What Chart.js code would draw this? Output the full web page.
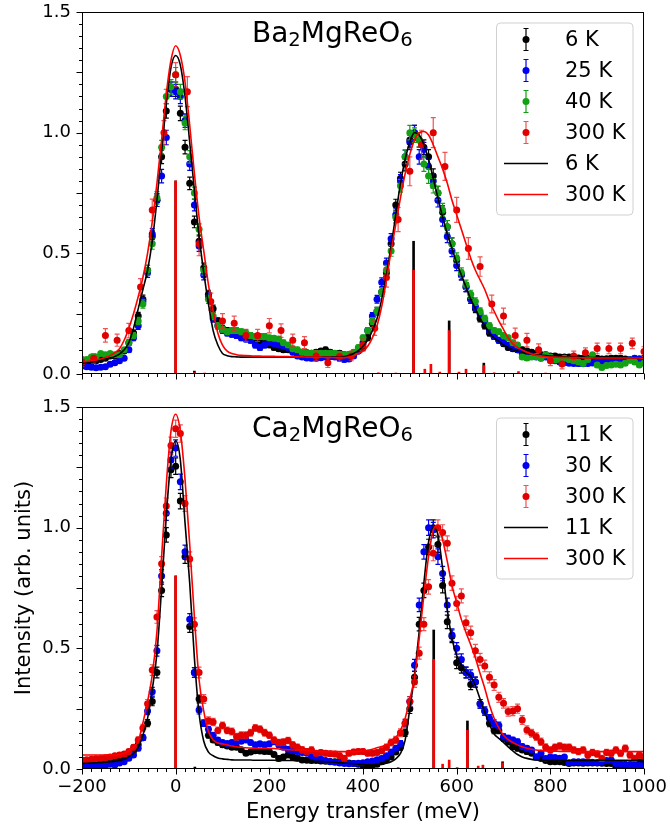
<!DOCTYPE html>
<html><head><meta charset="utf-8">
<script src="https://cdn.jsdelivr.net/npm/chart.js@4.4.1/dist/chart.umd.min.js"></script>
<style>
html,body{margin:0;padding:0;background:#fff;}
#wrap{position:relative;width:670px;height:833px;overflow:hidden;background:#fff;}
canvas{position:absolute;left:0;}
#c1{top:0;} #c2{top:390px;}
</style></head><body>
<div id="wrap"><canvas id="c1" width="670" height="390"></canvas><canvas id="c2" width="670" height="443"></canvas></div>
<script>
// ---------- axes / ticks ----------
const xTickValues = [-200, 0, 200, 400, 600, 800, 1000];
const yTickValues = [0, 0.5, 1.0, 1.5];

// ---------- energy grids (meV) ----------
const energy10 = [-200,-190,-180,-170,-160,-150,-140,-130,-120,-110,
 -100,-90,-80,-70,-60,-50,-40,-30,-20,-10,
 0,10,20,30,40,50,60,70,80,90,
 100,110,120,130,140,150,160,170,180,190,
 200,210,220,230,240,250,260,270,280,290,
 300,310,320,330,340,350,360,370,380,390,
 400,410,420,430,440,450,460,470,480,490,
 500,510,520,530,540,550,560,570,580,590,
 600,610,620,630,640,650,660,670,680,690,
 700,710,720,730,740,750,760,770,780,790,
 800,810,820,830,840,850,860,870,880,890,
 900,910,920,930,940,950,960,970,980,990,
 1000];
const energy25 = [-200,-175,-150,-125,-100,-75,-50,-25,0,25,50,75,100,125,150,175,200,225,250,275,300,325,350,375,400,425,450,475,500,525,550,575,600,625,650,675,700,725,750,775,800,825,850,875,900,925,950,975,1000];

// ---------- Ba2MgReO6 data ----------
const ba6K = [0.045,0.05,0.05,0.055,0.06,0.065,0.075,0.075,0.085,0.095,
 0.13,0.17,0.24,0.31,0.43,0.57,0.72,0.90,1.09,1.18,
 1.18,1.08,0.94,0.79,0.63,0.55,0.44,0.33,0.27,0.22,
 0.19,0.18,0.17,0.17,0.16,0.16,0.15,0.14,0.13,0.125,
 0.12,0.11,0.105,0.10,0.10,0.10,0.095,0.09,0.088,0.086,
 0.09,0.095,0.10,0.09,0.085,0.086,0.08,0.08,0.08,0.095,
 0.11,0.15,0.21,0.26,0.34,0.42,0.54,0.70,0.81,0.87,
 0.97,1.00,0.97,0.94,0.90,0.82,0.75,0.67,0.61,0.54,
 0.47,0.41,0.36,0.31,0.27,0.23,0.20,0.17,0.155,0.14,
 0.125,0.11,0.105,0.10,0.10,0.095,0.09,0.085,0.08,0.08,
 0.075,0.075,0.07,0.07,0.07,0.068,0.066,0.065,0.065,0.065,
 0.065,0.062,0.063,0.065,0.065,0.065,0.062,0.058,0.06,0.062,
 0.065];
const ba25K = [0.033,0.03,0.028,0.026,0.028,0.03,0.04,0.047,0.055,0.065,
 0.10,0.15,0.20,0.30,0.42,0.58,0.72,0.82,0.98,1.18,
 1.17,1.15,1.05,0.87,0.70,0.53,0.41,0.32,0.23,0.20,
 0.18,0.17,0.165,0.16,0.15,0.145,0.14,0.12,0.11,0.12,
 0.13,0.125,0.12,0.115,0.11,0.09,0.075,0.07,0.066,0.065,
 0.065,0.067,0.07,0.072,0.07,0.065,0.06,0.062,0.075,0.095,
 0.13,0.18,0.24,0.31,0.38,0.46,0.56,0.66,0.80,0.90,
 0.96,1.00,0.90,0.93,0.86,0.80,0.72,0.64,0.57,0.51,
 0.45,0.41,0.36,0.31,0.28,0.25,0.22,0.18,0.155,0.14,
 0.13,0.12,0.11,0.10,0.086,0.08,0.075,0.07,0.066,0.07,
 0.06,0.055,0.05,0.048,0.045,0.044,0.043,0.042,0.044,0.046,
 0.05,0.052,0.051,0.05,0.05,0.052,0.055,0.06,0.065,0.062,
 0.06];
const ba40K = [0.06,0.06,0.07,0.07,0.085,0.08,0.085,0.08,0.08,0.10,
 0.13,0.16,0.22,0.29,0.43,0.54,0.73,0.94,1.15,1.19,
 1.24,1.17,1.04,0.90,0.75,0.60,0.43,0.31,0.24,0.20,
 0.185,0.175,0.18,0.18,0.175,0.17,0.16,0.155,0.155,0.155,
 0.15,0.148,0.145,0.13,0.12,0.105,0.10,0.09,0.086,0.086,
 0.086,0.086,0.086,0.086,0.086,0.082,0.08,0.08,0.09,0.11,
 0.15,0.18,0.22,0.26,0.34,0.43,0.51,0.65,0.78,0.90,
 1.00,0.99,0.97,0.87,0.82,0.78,0.75,0.68,0.61,0.54,
 0.48,0.42,0.37,0.33,0.30,0.26,0.23,0.20,0.18,0.175,
 0.16,0.15,0.13,0.12,0.07,0.066,0.07,0.072,0.065,0.079,
 0.07,0.058,0.06,0.065,0.06,0.055,0.05,0.044,0.06,0.08,
 0.037,0.027,0.035,0.037,0.04,0.037,0.045,0.058,0.05,0.037,
 0.045];
const baLowTErr = [0.008,0.008,0.008,0.008,0.008,0.008,0.008,0.008,0.008,0.008,
 0.01,0.012,0.015,0.017,0.02,0.023,0.026,0.028,0.03,0.03,
 0.03,0.03,0.028,0.026,0.024,0.022,0.02,0.017,0.015,0.013,
 0.012,0.012,0.012,0.012,0.012,0.012,0.012,0.012,0.012,0.012,
 0.01,0.01,0.01,0.01,0.01,0.01,0.01,0.01,0.01,0.01,
 0.01,0.01,0.01,0.01,0.01,0.01,0.01,0.01,0.01,0.01,
 0.011,0.012,0.014,0.016,0.018,0.02,0.022,0.024,0.026,0.028,
 0.03,0.03,0.03,0.03,0.03,0.03,0.028,0.027,0.026,0.024,
 0.022,0.02,0.019,0.017,0.016,0.014,0.013,0.012,0.011,0.011,
 0.01,0.01,0.01,0.01,0.01,0.01,0.01,0.01,0.01,0.01,
 0.009,0.009,0.009,0.009,0.009,0.009,0.009,0.009,0.009,0.009,
 0.009,0.009,0.009,0.009,0.009,0.009,0.009,0.009,0.009,0.009,
 0.009];
const ba300K = [0.05,0.065,0.16,0.14,0.18,0.36,0.68,1.00,1.24,1.17,0.54,0.30,0.22,0.21,0.16,0.16,0.20,0.18,0.14,0.13,0.075,0.047,0.072,0.075,0.12,0.19,0.40,0.64,0.84,0.95,1.00,0.86,0.68,0.52,0.445,0.29,0.24,0.16,0.14,0.10,0.055,0.041,0.075,0.088,0.106,0.106,0.106,0.127,0.093];
const ba300KErr = [0.02,0.02,0.028,0.025,0.03,0.035,0.045,0.05,0.05,0.062,0.05,0.035,0.03,0.03,0.025,0.025,0.03,0.028,0.025,0.025,0.02,0.02,0.02,0.02,0.025,0.03,0.04,0.05,0.06,0.06,0.062,0.058,0.052,0.045,0.04,0.037,0.033,0.03,0.028,0.025,0.02,0.02,0.02,0.02,0.022,0.022,0.022,0.022,0.02];
const baFit6K = [0.045,0.048,0.05,0.053,0.056,0.06,0.065,0.072,0.082,0.10,
 0.13,0.19,0.27,0.35,0.43,0.55,0.72,0.92,1.12,1.27,
 1.32,1.28,1.15,0.96,0.76,0.57,0.42,0.29,0.18,0.12,
 0.085,0.076,0.072,0.071,0.07,0.07,0.07,0.07,0.07,0.07,
 0.07,0.07,0.07,0.07,0.07,0.07,0.07,0.07,0.07,0.07,
 0.07,0.07,0.07,0.07,0.07,0.07,0.072,0.077,0.085,0.097,
 0.115,0.14,0.18,0.23,0.31,0.41,0.53,0.66,0.79,0.89,
 0.96,1.00,0.99,0.95,0.89,0.81,0.73,0.65,0.58,0.52,
 0.46,0.41,0.36,0.31,0.27,0.23,0.20,0.17,0.15,0.135,
 0.12,0.11,0.10,0.095,0.09,0.085,0.082,0.08,0.078,0.076,
 0.074,0.073,0.072,0.071,0.07,0.07,0.07,0.069,0.069,0.068,
 0.068,0.068,0.067,0.067,0.067,0.066,0.066,0.066,0.066,0.066,
 0.066];
const baFit300K = [0.05,0.052,0.055,0.058,0.062,0.068,0.076,0.088,0.105,0.14,
 0.19,0.25,0.32,0.40,0.50,0.63,0.79,0.97,1.16,1.30,
 1.36,1.32,1.21,1.03,0.83,0.65,0.51,0.37,0.26,0.17,
 0.12,0.095,0.085,0.08,0.077,0.076,0.075,0.074,0.074,0.073,
 0.073,0.073,0.072,0.072,0.072,0.071,0.071,0.071,0.07,0.07,
 0.07,0.07,0.069,0.069,0.068,0.068,0.068,0.07,0.075,0.085,
 0.095,0.115,0.15,0.20,0.28,0.39,0.51,0.62,0.73,0.83,
 0.91,0.97,1.00,1.005,0.99,0.95,0.90,0.85,0.79,0.72,
 0.66,0.60,0.54,0.48,0.43,0.39,0.35,0.30,0.26,0.22,
 0.185,0.15,0.125,0.11,0.10,0.09,0.083,0.078,0.075,0.072,
 0.07,0.07,0.069,0.069,0.068,0.068,0.068,0.067,0.067,0.067,
 0.066,0.066,0.066,0.066,0.066,0.066,0.066,0.066,0.066,0.066,
 0.065];
const baStickBlackE = [0, 40, 508, 584, 658];
const baStickBlackH = [0.80, 0.012, 0.55, 0.22, 0.045];
const baStickRedE = [0, 40, 62, 433, 470, 508, 532, 545, 564, 584, 605, 620, 658, 680, 732, 790];
const baStickRedH = [0.80, 0.006, 0.004, 0.005, 0.004, 0.43, 0.02, 0.04, 0.008, 0.18, 0.008, 0.02, 0.035, 0.005, 0.01, 0.004];

// ---------- Ca2MgReO6 data ----------
const ca11K = [0.02,0.02,0.022,0.025,0.025,0.03,0.028,0.03,0.035,0.04,
 0.06,0.075,0.10,0.13,0.19,0.28,0.40,0.74,0.97,1.24,
 1.255,1.11,0.88,0.59,0.40,0.29,0.19,0.14,0.12,0.11,
 0.10,0.095,0.09,0.09,0.08,0.065,0.07,0.076,0.075,0.073,
 0.072,0.06,0.044,0.05,0.058,0.05,0.045,0.037,0.036,0.035,
 0.035,0.033,0.032,0.031,0.03,0.028,0.026,0.025,0.023,0.02,
 0.015,0.012,0.015,0.02,0.03,0.037,0.05,0.07,0.09,0.15,
 0.25,0.38,0.60,0.74,0.92,1.00,0.93,0.76,0.61,0.55,
 0.44,0.42,0.40,0.35,0.36,0.27,0.24,0.19,0.16,0.16,
 0.127,0.113,0.093,0.086,0.079,0.072,0.065,0.05,0.044,0.035,
 0.03,0.03,0.03,0.027,0.023,0.025,0.025,0.024,0.025,0.025,
 0.025,0.024,0.023,0.023,0.006,0.012,0.015,0.017,0.025,0.03,
 0.026];
const ca30K = [0.012,0.012,0.01,0.012,0.012,0.015,0.02,0.017,0.025,0.03,
 0.045,0.058,0.086,0.13,0.24,0.32,0.49,0.80,1.06,1.28,
 1.33,1.19,0.90,0.62,0.40,0.244,0.19,0.165,0.14,0.12,
 0.11,0.106,0.11,0.113,0.115,0.12,0.11,0.10,0.105,0.10,
 0.105,0.113,0.10,0.09,0.082,0.076,0.072,0.068,0.065,0.055,
 0.045,0.04,0.035,0.03,0.028,0.025,0.023,0.022,0.023,0.024,
 0.026,0.03,0.033,0.038,0.044,0.055,0.07,0.086,0.106,0.19,
 0.28,0.43,0.68,0.90,1.00,0.99,0.88,0.81,0.68,0.555,
 0.50,0.454,0.40,0.39,0.36,0.27,0.24,0.21,0.19,0.18,
 0.134,0.127,0.12,0.113,0.093,0.086,0.079,0.05,0.065,0.044,
 0.05,0.048,0.045,0.05,0.026,0.03,0.03,0.03,0.03,0.028,
 0.026,0.03,0.035,0.037,0.023,0.022,0.02,0.019,0.017,0.015,
 0.014];
const caLowTErr = [0.006,0.006,0.006,0.006,0.006,0.006,0.006,0.006,0.006,0.006,
 0.008,0.009,0.01,0.012,0.015,0.018,0.022,0.026,0.03,0.033,
 0.034,0.032,0.028,0.024,0.02,0.016,0.013,0.011,0.01,0.01,
 0.009,0.009,0.009,0.009,0.009,0.009,0.009,0.009,0.009,0.009,
 0.009,0.009,0.009,0.009,0.009,0.009,0.009,0.009,0.009,0.009,
 0.008,0.008,0.008,0.008,0.008,0.008,0.008,0.008,0.008,0.008,
 0.007,0.007,0.007,0.007,0.008,0.008,0.009,0.01,0.012,0.015,
 0.02,0.024,0.028,0.03,0.032,0.032,0.032,0.03,0.028,0.026,
 0.024,0.023,0.022,0.021,0.021,0.018,0.017,0.015,0.014,0.014,
 0.012,0.012,0.011,0.011,0.01,0.01,0.009,0.009,0.008,0.008,
 0.007,0.007,0.007,0.007,0.007,0.007,0.007,0.007,0.007,0.007,
 0.007,0.007,0.007,0.007,0.007,0.007,0.007,0.007,0.007,0.007,
 0.007];
const ca300K = [0.037,0.038,0.04,0.042,0.044,0.047,0.05,0.055,0.058,0.062,
 0.072,0.09,0.12,0.17,0.27,0.41,0.63,0.85,1.09,1.34,
 1.41,1.39,1.10,0.87,0.60,0.40,0.29,0.20,0.195,0.16,
 0.18,0.16,0.155,0.134,0.14,0.14,0.15,0.17,0.165,0.15,
 0.14,0.12,0.11,0.112,0.118,0.10,0.09,0.08,0.072,0.079,
 0.065,0.068,0.065,0.063,0.062,0.055,0.045,0.065,0.07,0.072,
 0.072,0.065,0.065,0.068,0.076,0.09,0.11,0.12,0.15,0.19,
 0.28,0.36,0.48,0.60,0.755,0.894,1.00,0.98,0.935,0.77,
 0.686,0.717,0.606,0.565,0.49,0.454,0.427,0.38,0.348,0.297,
 0.272,0.238,0.24,0.25,0.203,0.162,0.148,0.134,0.113,0.09,
 0.079,0.09,0.095,0.09,0.09,0.079,0.072,0.079,0.058,0.068,
 0.062,0.044,0.068,0.065,0.079,0.065,0.086,0.058,0.044,0.058,
 0.05];
const ca300KErr = [0.008,0.008,0.008,0.008,0.008,0.008,0.008,0.008,0.008,0.008,
 0.01,0.011,0.013,0.015,0.018,0.022,0.026,0.03,0.033,0.035,
 0.036,0.036,0.033,0.03,0.026,0.022,0.018,0.016,0.015,0.014,
 0.014,0.014,0.014,0.014,0.014,0.014,0.014,0.014,0.014,0.014,
 0.013,0.013,0.013,0.013,0.013,0.013,0.013,0.013,0.013,0.013,
 0.011,0.011,0.011,0.011,0.011,0.011,0.011,0.011,0.011,0.011,
 0.011,0.011,0.011,0.011,0.012,0.013,0.014,0.015,0.016,0.018,
 0.02,0.022,0.025,0.027,0.03,0.031,0.032,0.032,0.031,0.03,
 0.029,0.029,0.028,0.027,0.026,0.025,0.024,0.023,0.022,0.021,
 0.02,0.019,0.019,0.019,0.018,0.017,0.016,0.016,0.015,0.014,
 0.013,0.013,0.013,0.013,0.013,0.013,0.013,0.013,0.013,0.013,
 0.013,0.013,0.013,0.013,0.013,0.013,0.013,0.013,0.013,0.013,
 0.013];
const caFit11K = [0.023,0.024,0.025,0.026,0.027,0.028,0.03,0.032,0.035,0.04,
 0.05,0.065,0.09,0.14,0.21,0.33,0.48,0.75,1.05,1.28,
 1.36,1.28,1.02,0.77,0.46,0.23,0.115,0.07,0.055,0.046,
 0.042,0.04,0.038,0.037,0.037,0.037,0.037,0.036,0.036,0.036,
 0.036,0.036,0.035,0.035,0.035,0.035,0.034,0.034,0.033,0.033,
 0.032,0.031,0.03,0.029,0.028,0.026,0.025,0.023,0.022,0.02,
 0.018,0.017,0.017,0.018,0.02,0.024,0.03,0.042,0.065,0.12,
 0.25,0.39,0.57,0.77,0.94,1.00,0.97,0.83,0.66,0.54,
 0.47,0.43,0.40,0.385,0.345,0.29,0.235,0.185,0.145,0.127,
 0.11,0.092,0.075,0.06,0.05,0.044,0.04,0.037,0.036,0.035,
 0.035,0.035,0.035,0.035,0.035,0.035,0.035,0.035,0.035,0.035,
 0.036,0.036,0.036,0.036,0.036,0.036,0.036,0.036,0.036,0.036,
 0.037];
const caFit300K = [0.058,0.058,0.058,0.058,0.058,0.058,0.059,0.059,0.06,0.065,
 0.075,0.09,0.115,0.19,0.28,0.39,0.57,0.88,1.18,1.40,
 1.47,1.40,1.20,0.93,0.63,0.37,0.24,0.155,0.12,0.108,
 0.104,0.10,0.095,0.092,0.09,0.088,0.087,0.086,0.086,0.086,
 0.086,0.085,0.083,0.081,0.08,0.079,0.079,0.079,0.077,0.075,
 0.073,0.072,0.072,0.072,0.072,0.072,0.072,0.072,0.072,0.073,
 0.075,0.078,0.082,0.088,0.093,0.10,0.11,0.13,0.16,0.21,
 0.29,0.38,0.54,0.72,0.88,0.99,1.01,0.95,0.86,0.76,
 0.69,0.62,0.565,0.515,0.46,0.396,0.335,0.265,0.21,0.17,
 0.14,0.122,0.11,0.10,0.092,0.086,0.082,0.079,0.077,0.075,
 0.074,0.074,0.073,0.073,0.073,0.073,0.072,0.072,0.072,0.072,
 0.072,0.072,0.072,0.072,0.072,0.072,0.072,0.072,0.072,0.072,
 0.072];
const caStickBlackE = [0, 41, 551, 623, 698, 771];
const caStickBlackH = [0.80, 0.008, 0.576, 0.199, 0.03, 0.006];
const caStickRedE = [0, 200, 475, 551, 570, 584, 601, 623, 646, 656, 698];
const caStickRedH = [0.80, 0.004, 0.006, 0.454, 0.02, 0.037, 0.006, 0.16, 0.012, 0.016, 0.025];

// ---------- helpers ----------
const FONT = "'DejaVu Sans', sans-serif";
const COL = {black:'#000000', blue:'#0000f0', green:'#14a014', red:'#e00000', redErr:'rgba(235,40,40,0.8)', redLine:'#ff0000'};
function pts(xs, ys){ return xs.map((x,i)=>({x:x, y:ys[i]})); }
function minusFmt(v){ return v < 0 ? '\u2212' + Math.abs(v) : String(v); }

const errorBarPlugin = {
  id:'errorBars',
  beforeDatasetDraw(chart, args){
    const ds = chart.data.datasets[args.index];
    if(!ds.errors) return;
    const {ctx, chartArea:a, scales:{x, y}} = chart;
    ctx.save();
    ctx.beginPath(); ctx.rect(a.left, a.top, a.right-a.left, a.bottom-a.top); ctx.clip();
    ctx.strokeStyle = ds.errorColor; ctx.lineWidth = 1.2;
    ctx.beginPath();
    ds.data.forEach((p,i)=>{
      const e = ds.errors[i];
      const px = x.getPixelForValue(p.x);
      const y1 = y.getPixelForValue(p.y - e), y2 = y.getPixelForValue(p.y + e);
      ctx.moveTo(px, y1); ctx.lineTo(px, y2);
      ctx.moveTo(px-2.5, y1); ctx.lineTo(px+2.5, y1);
      ctx.moveTo(px-2.5, y2); ctx.lineTo(px+2.5, y2);
    });
    ctx.stroke();
    ctx.restore();
  }
};

const framePlugin = {
  id:'frame',
  afterDatasetsDraw(chart){
    const {ctx, chartArea:a, scales:{x, y}} = chart;
    ctx.save();
    ctx.strokeStyle = '#000'; ctx.lineWidth = 1;
    const L = Math.round(a.left)+0.5, R = Math.round(a.right)-0.5, T = Math.round(a.top)+0.5, B = Math.round(a.bottom)-0.5;
    ctx.strokeRect(L, T, R-L, B-T);
    ctx.beginPath();
    for (let v = -200; v <= 1000; v += 20) {
      const px = Math.round(x.getPixelForValue(v)) + 0.5;
      const len = (v % 200 === 0) ? 6 : 3.5;
      ctx.moveTo(px, B); ctx.lineTo(px, B + len);
    }
    for (let k = 0; k <= 30; k++) {
      const py = Math.round(y.getPixelForValue(k * 0.05)) + 0.5;
      const len = (k % 5 === 0) ? 6 : 3.5;
      ctx.moveTo(L, py); ctx.lineTo(L - len, py);
    }
    ctx.stroke();
    ctx.restore();
  }
};

const decorPlugin = {
  id:'decor',
  afterDraw(chart, args, opts){
    const {ctx, chartArea:a} = chart;
    ctx.save();
    // panel title with subscripts
    let tx = a.left + 170; const base = a.top + 30;
    ctx.fillStyle = '#000'; ctx.textBaseline = 'alphabetic'; ctx.textAlign = 'left';
    opts.title.forEach(part => {
      ctx.font = (part.sub ? '19.6px ' : '28px ') + FONT;
      ctx.fillText(part.t, tx, base + (part.sub ? 4 : 0));
      tx += ctx.measureText(part.t).width;
    });
    // legend
    const items = opts.items;
    const bx = a.right - 147.5, by = a.top + 11, bw = 136.5, bh = items.length * 31 + 6, r = 4;
    ctx.beginPath();
    ctx.moveTo(bx + r, by); ctx.lineTo(bx + bw - r, by); ctx.quadraticCurveTo(bx + bw, by, bx + bw, by + r);
    ctx.lineTo(bx + bw, by + bh - r); ctx.quadraticCurveTo(bx + bw, by + bh, bx + bw - r, by + bh);
    ctx.lineTo(bx + r, by + bh); ctx.quadraticCurveTo(bx, by + bh, bx, by + bh - r);
    ctx.lineTo(bx, by + r); ctx.quadraticCurveTo(bx, by, bx + r, by);
    ctx.closePath();
    ctx.fillStyle = 'rgba(255,255,255,0.8)'; ctx.fill();
    ctx.strokeStyle = '#d0d0d0'; ctx.lineWidth = 1; ctx.stroke();
    items.forEach((it, i) => {
      const ds = chart.data.datasets[it.ds];
      const cy = by + 16.5 + i * 31;
      const mx = bx + 29.5;
      if (it.kind === 'point') {
        ctx.strokeStyle = ds.errorColor; ctx.lineWidth = 1.2;
        ctx.beginPath();
        ctx.moveTo(mx, cy - 11); ctx.lineTo(mx, cy + 11);
        ctx.moveTo(mx - 2.5, cy - 11); ctx.lineTo(mx + 2.5, cy - 11);
        ctx.moveTo(mx - 2.5, cy + 11); ctx.lineTo(mx + 2.5, cy + 11);
        ctx.stroke();
        ctx.fillStyle = ds.backgroundColor;
        ctx.beginPath(); ctx.arc(mx, cy, 3.5, 0, Math.PI * 2); ctx.fill();
      } else {
        ctx.strokeStyle = ds.borderColor; ctx.lineWidth = 1.6;
        ctx.beginPath(); ctx.moveTo(bx + 7.5, cy); ctx.lineTo(bx + 51.5, cy); ctx.stroke();
      }
      ctx.fillStyle = '#000'; ctx.font = '21px ' + FONT; ctx.textBaseline = 'middle';
      ctx.fillText(ds.label, bx + 68.5, cy + 1);
    });
    ctx.restore();
  }
};

function pointSet(label, xs, ys, errs, color, errColor, order){
  return {type:'scatter', label:label, data:pts(xs, ys), errors:errs, errorColor:errColor,
    backgroundColor:color, borderColor:color, pointRadius:3.5, pointBorderWidth:0, borderWidth:0,
    pointHoverRadius:3.5, showLine:false, order:order};
}
function lineSet(label, xs, ys, color, order){
  return {type:'line', label:label, data:pts(xs, ys), borderColor:color, backgroundColor:color,
    borderWidth:1.6, pointRadius:0, fill:false, cubicInterpolationMode:'monotone', order:order};
}
function stickSet(xs, ys, color, order){
  return {type:'bar', label:'', data:pts(xs, ys), backgroundColor:color, borderWidth:0,
    barThickness:2, grouped:false, order:order};
}

function makeOptions(isBottom, decor){
  const tickFont = {family:FONT, size:18};
  return {
    responsive:false, animation:false, devicePixelRatio:1, events:[],
    layout:{padding:{left:0, right:26, top:isBottom ? 17 : 12, bottom:0}},
    plugins:{legend:{display:false}, tooltip:{enabled:false}, decor:decor},
    scales:{
      x:{type:'linear', min:-200, max:1000, offset:false,
         grid:{display:false, drawTicks:true, tickLength:8}, border:{display:false},
         afterBuildTicks:s => { s.ticks = xTickValues.map(v => ({value:v})); },
         ticks:{display:isBottom, padding:0, color:'#000', font:tickFont, maxRotation:0, autoSkip:false,
                callback:v => minusFmt(v)},
         title:{display:isBottom, text:'Energy transfer (meV)', color:'#000',
                font:{family:FONT, size:21}, padding:{top:0, bottom:8}},
         afterFit:s => { s.height = isBottom ? 64 : 16; }},
      y:{type:'linear', min:0, max:1.5,
         grid:{display:false, drawTicks:true, tickLength:11}, border:{display:false},
         afterBuildTicks:s => { s.ticks = yTickValues.map(v => ({value:v})); },
         ticks:{padding:0, color:'#000', font:tickFont, callback:v => Number(v).toFixed(1)},
         title:{display:isBottom, text:'Intensity (arb. units)', color:'#000',
                font:{family:FONT, size:21}, padding:{top:12, bottom:0}},
         afterFit:s => { s.width = 82; }}
    }
  };
}

// ---------- top panel: Ba2MgReO6 ----------
new Chart(document.getElementById('c1'), {
  type:'scatter',
  data:{datasets:[
    pointSet('6 K', energy10, ba6K, baLowTErr, COL.black, COL.black, 10),
    pointSet('25 K', energy10, ba25K, baLowTErr, COL.blue, COL.blue, 9),
    pointSet('40 K', energy10, ba40K, baLowTErr, COL.green, COL.green, 8),
    pointSet('300 K', energy25, ba300K, ba300KErr, COL.red, COL.redErr, 7),
    lineSet('6 K', energy10, baFit6K, COL.black, 6),
    lineSet('300 K', energy10, baFit300K, COL.redLine, 5),
    stickSet(baStickBlackE, baStickBlackH, COL.black, 4),
    stickSet(baStickRedE, baStickRedH, COL.redLine, 3)
  ]},
  options:makeOptions(false, {
    title:[{t:'Ba'},{t:'2', sub:true},{t:'MgReO'},{t:'6', sub:true}],
    items:[{ds:0, kind:'point'},{ds:1, kind:'point'},{ds:2, kind:'point'},{ds:3, kind:'point'},{ds:4, kind:'line'},{ds:5, kind:'line'}]
  }),
  plugins:[errorBarPlugin, framePlugin, decorPlugin]
});

// ---------- bottom panel: Ca2MgReO6 ----------
new Chart(document.getElementById('c2'), {
  type:'scatter',
  data:{datasets:[
    pointSet('11 K', energy10, ca11K, caLowTErr, COL.black, COL.black, 10),
    pointSet('30 K', energy10, ca30K, caLowTErr, COL.blue, COL.blue, 9),
    pointSet('300 K', energy10, ca300K, ca300KErr, COL.red, COL.redErr, 8),
    lineSet('11 K', energy10, caFit11K, COL.black, 6),
    lineSet('300 K', energy10, caFit300K, COL.redLine, 5),
    stickSet(caStickBlackE, caStickBlackH, COL.black, 4),
    stickSet(caStickRedE, caStickRedH, COL.redLine, 3)
  ]},
  options:makeOptions(true, {
    title:[{t:'Ca'},{t:'2', sub:true},{t:'MgReO'},{t:'6', sub:true}],
    items:[{ds:0, kind:'point'},{ds:1, kind:'point'},{ds:2, kind:'point'},{ds:3, kind:'line'},{ds:4, kind:'line'}]
  }),
  plugins:[errorBarPlugin, framePlugin, decorPlugin]
});
</script></body></html>
